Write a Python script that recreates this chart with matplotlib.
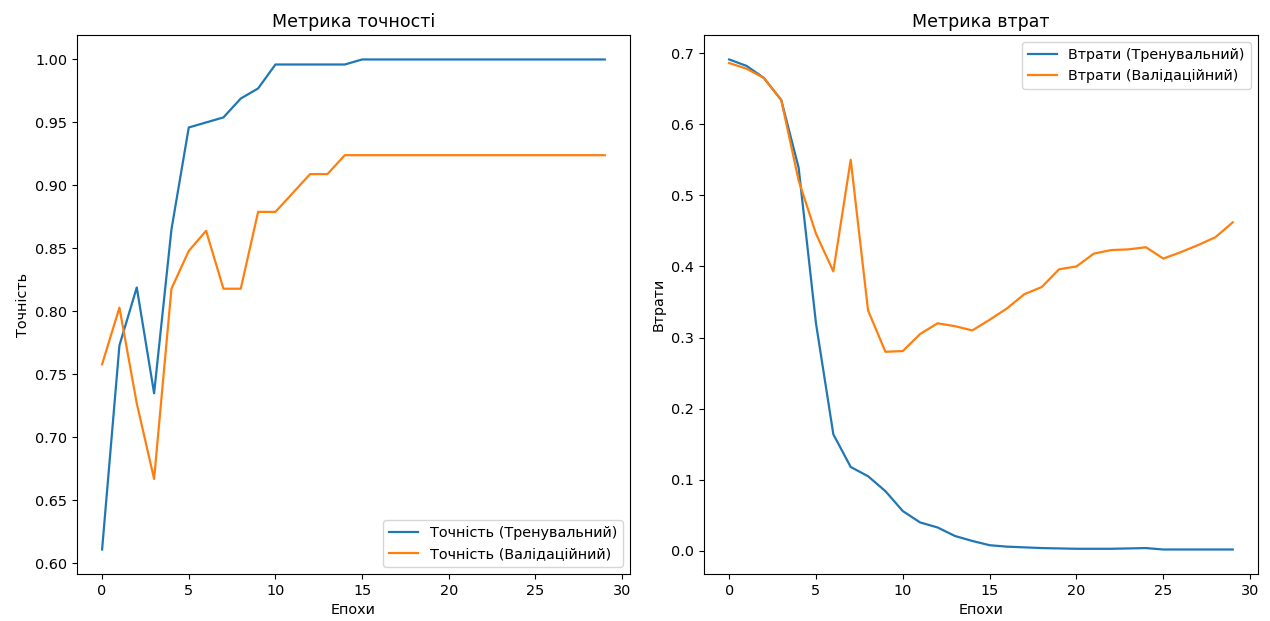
import matplotlib
matplotlib.use("Agg")
import matplotlib.pyplot as plt
import numpy as np

epochs = np.arange(30)

train_acc = [0.611, 0.773, 0.819, 0.735, 0.865, 0.946, 0.950, 0.954, 0.969, 0.977,
             0.996, 0.996, 0.996, 0.996, 0.996, 1.0, 1.0, 1.0, 1.0, 1.0,
             1.0, 1.0, 1.0, 1.0, 1.0, 1.0, 1.0, 1.0, 1.0, 1.0]
val_acc = [0.758, 0.803, 0.727, 0.667, 0.818, 0.848, 0.864, 0.818, 0.818, 0.879,
           0.879, 0.894, 0.909, 0.909, 0.924, 0.924, 0.924, 0.924, 0.924, 0.924,
           0.924, 0.924, 0.924, 0.924, 0.924, 0.924, 0.924, 0.924, 0.924, 0.924]

train_loss = [0.691, 0.682, 0.665, 0.634, 0.539, 0.320, 0.164, 0.118, 0.105, 0.084,
              0.056, 0.040, 0.033, 0.021, 0.014, 0.008, 0.006, 0.005, 0.004, 0.0035,
              0.003, 0.003, 0.003, 0.0035, 0.004, 0.002, 0.002, 0.002, 0.002, 0.002]
val_loss = [0.686, 0.678, 0.665, 0.634, 0.521, 0.446, 0.393, 0.550, 0.338, 0.280,
            0.281, 0.305, 0.320, 0.316, 0.310, 0.325, 0.341, 0.361, 0.371, 0.396,
            0.400, 0.418, 0.423, 0.424, 0.427, 0.411, 0.420, 0.430, 0.441, 0.462]

plt.rcParams["font.size"] = 10.4
plt.rcParams["lines.linewidth"] = 1.6

fig = plt.figure(figsize=(12.7, 6.21), dpi=100)
ax1 = fig.add_axes([0.0606, 0.0757, 0.4354, 0.868])
ax2 = fig.add_axes([0.5543, 0.0757, 0.4362, 0.868])

ax1.plot(epochs, train_acc, label="Точність (Тренувальний)")
ax1.plot(epochs, val_acc, label="Точність (Валідаційний)")
ax1.set_title("Метрика точності")
ax1.set_xlabel("Епохи")
ax1.set_ylabel("Точність")
ax1.legend(loc="lower right")

ax2.plot(epochs, train_loss, label="Втрати (Тренувальний)")
ax2.plot(epochs, val_loss, label="Втрати (Валідаційний)")
ax2.set_title("Метрика втрат")
ax2.set_xlabel("Епохи")
ax2.set_ylabel("Втрати")
ax2.legend(loc="upper right")

fig.savefig("out.png", dpi=100)
